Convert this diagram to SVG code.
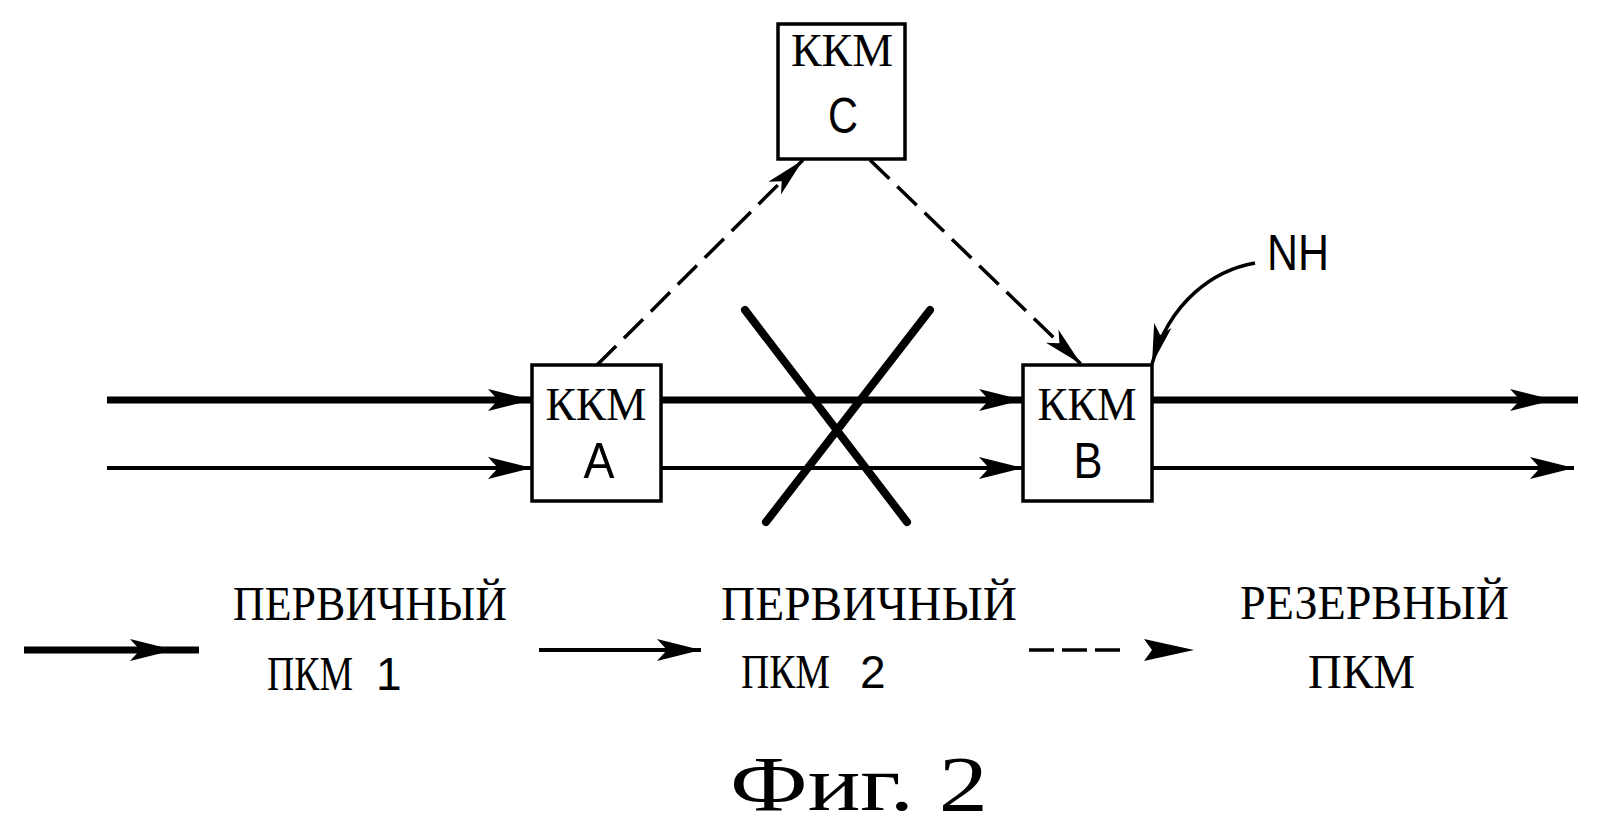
<svg xmlns="http://www.w3.org/2000/svg" width="1602" height="828" viewBox="0 0 1602 828">
<style>
.box{fill:#fff;stroke:#000;stroke-width:3.5}
.kkm{font-family:"Liberation Serif","Times New Roman",serif;font-size:47px;fill:#000;text-anchor:middle}
.let{font-family:"Liberation Sans",Arial,sans-serif;font-size:50px;fill:#000;text-anchor:middle}
.leg{font-family:"Liberation Serif","Times New Roman",serif;font-size:48px;fill:#000}
.thick{fill:none;stroke:#000;stroke-width:7}
.thin{fill:none;stroke:#000;stroke-width:4}
.dash{fill:none;stroke:#000;stroke-width:3.5;stroke-dasharray:27 11}
.cross{fill:none;stroke:#000;stroke-width:8;stroke-linecap:round}
</style>
<defs>
<marker id="arr" viewBox="-46 -13 48 26" refX="0" refY="0" markerWidth="48" markerHeight="26" orient="auto" markerUnits="userSpaceOnUse">
<path d="M0,0 L-44,-11 L-34,0 L-44,11 Z" fill="#000"/>
</marker>
<marker id="arrs" viewBox="-44 -11 46 22" refX="0" refY="0" markerWidth="46" markerHeight="22" orient="auto" markerUnits="userSpaceOnUse">
<path d="M0,0 L-40,-9 L-30,0 L-40,9 Z" fill="#000"/>
</marker>
</defs>
<rect width="1602" height="828" fill="#fff"/>
<g id="connectors">
<path class="thick" d="M107,400 L532,400" marker-end="url(#arr)"/>
<path class="thick" d="M661,400 L1023,400" marker-end="url(#arr)"/>
<polyline class="thick" points="1152,400 1554,400 1578,400" marker-mid="url(#arr)"/>
<path class="thin" d="M107,468 L532,468" marker-end="url(#arr)"/>
<path class="thin" d="M661,468 L1023,468" marker-end="url(#arr)"/>
<path class="thin" d="M1152,468 L1574,468" marker-end="url(#arr)"/>
<path class="dash" d="M597,365 L803,160" marker-end="url(#arrs)"/>
<path class="dash" d="M870,160 L1081,364" marker-end="url(#arrs)"/>
<path d="M1255,263 C1215,270 1170,300 1152,364" fill="none" stroke="#000" stroke-width="3.5" marker-end="url(#arrs)"/>
</g>
<g id="cross">
<line class="cross" x1="745" y1="310" x2="907" y2="522"/>
<line class="cross" x1="930" y1="310" x2="766" y2="522"/>
</g>
<g id="node-C">
<rect class="box" x="778" y="24" width="127" height="135"/>
<text class="kkm" x="842" y="66" textLength="102" lengthAdjust="spacingAndGlyphs">ККМ</text>
<text class="let" x="843" y="133" textLength="30" lengthAdjust="spacingAndGlyphs">C</text>
</g>
<g id="node-A">
<rect class="box" x="532" y="365" width="129" height="136"/>
<text class="kkm" x="596" y="420" textLength="101" lengthAdjust="spacingAndGlyphs">ККМ</text>
<text class="let" x="599" y="478" textLength="31" lengthAdjust="spacingAndGlyphs">A</text>
</g>
<g id="node-B">
<rect class="box" x="1023" y="365" width="129" height="136"/>
<text class="kkm" x="1087" y="420" textLength="99" lengthAdjust="spacingAndGlyphs">ККМ</text>
<text class="let" x="1088" y="478" textLength="29" lengthAdjust="spacingAndGlyphs">B</text>
</g>
<g id="label-NH">
<text class="let" x="1298" y="270" font-size="54" textLength="62" lengthAdjust="spacingAndGlyphs">NH</text>
</g>
<g id="legend">
<polyline class="thick" points="24,650 174,650 199,650" marker-mid="url(#arr)"/>
<path class="thin" d="M539,650 L701,650" marker-end="url(#arr)"/>
<path class="dash" d="M1029,650 L1121,650" style="stroke-dasharray:25 8"/>
<path d="M1194,650 L1144,639 L1152,650 L1144,661 Z" fill="#000"/>
<text class="leg" x="233" y="620" textLength="274" lengthAdjust="spacingAndGlyphs">ПЕРВИЧНЫЙ</text>
<text class="leg" y="690"><tspan x="267" textLength="86" lengthAdjust="spacingAndGlyphs">ПКМ</tspan> <tspan x="376" font-family="Liberation Sans, Arial, sans-serif" font-size="46">1</tspan></text>
<text class="leg" x="721" y="620" textLength="296" lengthAdjust="spacingAndGlyphs">ПЕРВИЧНЫЙ</text>
<text class="leg" y="688"><tspan x="741" textLength="89" lengthAdjust="spacingAndGlyphs">ПКМ</tspan> <tspan x="860" font-family="Liberation Sans, Arial, sans-serif" font-size="46">2</tspan></text>
<text class="leg" x="1240" y="619" textLength="269" lengthAdjust="spacingAndGlyphs">РЕЗЕРВНЫЙ</text>
<text class="leg" x="1308" y="688" textLength="107" lengthAdjust="spacingAndGlyphs">ПКМ</text>
</g>
<g id="caption">
<text x="730" y="810" font-family="Liberation Serif, Times New Roman, serif" font-size="78" textLength="258" lengthAdjust="spacingAndGlyphs">Фиг. 2</text>
</g>
</svg>
